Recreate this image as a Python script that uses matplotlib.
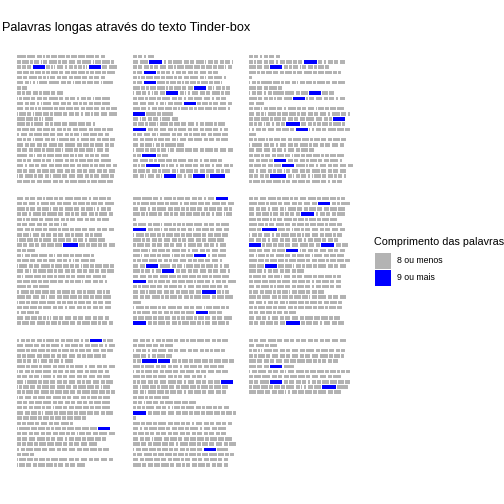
import matplotlib
matplotlib.use("Agg")
import matplotlib.pyplot as plt
from matplotlib.patches import Rectangle

TITLE = "Palavras longas através do texto Tinder-box"
LEGEND_TITLE = "Comprimento das palavras"
CATEGORIES = ["8 ou menos", "9 ou mais"]
COLORS = ["#B3B3B3", "#0000FF"]
THRESHOLD = 9  # words with at least this many letters are "long"

# Each page: one string per text line; each character is one word's length (base 36).
PAGE_1 = ["7641345345633", "3524136245371462", "33393115232311946", "4434235344523436",
          "436321434354343", "5312168431434417", "34", "32442535", "1253437334243146",
          "534216543423356", "5331283454354334", "15315426343241456", "653116",
          "631732546542", "354453423463534", "253644532414543", "4231643174264354",
          "53443648443633", "343526416345153", "831425543143336", "423624163325448",
          "5243545443523443", "435354543435435", "1362431645532463", "45346433562464"]
PAGE_2 = ["3325", "46a237436143341", "33423541564343413", "24923324343534",
          "3135435234631462", "249624313425341", "5324613534931423", "14321349312543624",
          "342536432465234", "455231469342453", "5424453153245362", "9738", "41334165",
          "342516344523625", "a4354263435423", "245318343254364", "436244315463435",
          "43513285", "1634241365436354", "23a34", "46325436432453", "313a3142354342542",
          "3534263145346324", "431531942392b"]
PAGE_3 = ["332343", "3143424433a32434", "5449324134243", "523443524634532", "2",
          "1328524314426345", "54363", "134238735944", "633314691453424", "46",
          "3413542633514345", "43216345244352642", "34625343465329", "32313233a43234262",
          "1243545391243654", "5", "3251344365244354", "184325436243453", "4553425354",
          "3424354143452345", "43539434253462", "353459714253454", "4253241354364345",
          "3333c313421534232", "253462345364234"]
PAGE_4 = ["534415336542453", "43526446353447", "6243514364351243", "342637442354263",
          "413536432453435", "345433413", "542536253445344", "44153434426326",
          "15432635434265", "4343455b434335", "336", "3145631443552", "3544354321364",
          "1634725433143543", "5313642443434345", "31653425336463", "454345433415432",
          "7347", "263454363426413", "64531544534356", "143556334254345",
          "445363425423435", "2453", "5443211435345343", "354634254364243"]
PAGE_5 = ["6742625443259", "226453624544645", "4523744324435432", "53163423445332514",
          "2", "363516232563436", "a44135243145354", "163432543463454", "62343542354365",
          "254344352644325", "55145364254355", "51443614359246", "234633245334452",
          "44983415435324", "524249343453452", "45346534534265", "a42534551542436",
          "325443632545443", "44154433544a313", "434623534256356", "6",
          "1635236443514532", "2364342436954", "3453443235244346", "a33534254314452"]
PAGE_6 = ["335635235635423", "65253543549327", "434253164354455", "445143333a24336",
          "53512463425355", "64246435345254", "53b53142453454", "1435236431453524",
          "443253443245343", "9243445643a44", "54536913435434", "415236435416445",
          "643542563452454", "55945142436435", "542343435", "263441534634523",
          "35453645324534", "436215435424534", "2435234145344", "536424354146345",
          "452434164353453", "325436424534254", "33442435", "44325345364534",
          "334534a3442544"]
PAGE_7 = ["2333416335423924", "564336245345325", "634534253244544", "33645334533453",
          "4233153426", "635263523625435", "134256343453543", "343416243543545",
          "517344435324535", "124435464365315", "325463544365433", "135354633542435",
          "43456344343356", "433524153454346", "544216354354435", "44534343453",
          "335353462", "1845324354559", "3434344433144465", "34563352443543",
          "334355533456", "23554534544534", "353", "154343564353453", "14435524346"]
PAGE_8 = ["4432425342454334", "354436", "1432464353433243", "542364", "23b94243543544",
          "52734342453454", "132543544634544", "534364235342", "224435642543449",
          "415425436425354", "431653442453543", "342355", "3314436545",
          "23264321436424334", "a35454434354342", "2", "5343644332543433",
          "42365344362546", "3433343443343434", "434164534453545", "543644265344535",
          "14453433424498", "2463453425346433", "436443524434533", "634463423453343"]
PAGE_9 = ["335644334433455", "4635", "2311644354635433", "325354353456342",
          "54435446432334", "54498", "14634315634534233", "3564345535536",
          "337934432335544", "255343631245a8", "55444124453645"]

PAGES = [PAGE_1, PAGE_2, PAGE_3, PAGE_4, PAGE_5, PAGE_6, PAGE_7, PAGE_8, PAGE_9]

# ---- layout (pixels) ----
W = H = 504
COL_LEFT = [16.7, 133.0, 249.0]
ROW_FIRST = [56.7, 198.5, 340.3]
PX_PER_CHAR = 1.333
LINE_PX = 5.19
N_LINES = 25
X_MAX = 80

fig = plt.figure(figsize=(7, 7), dpi=72)
fig.patch.set_facecolor("white")
plt.rcParams["font.family"] = ["Liberation Sans", "DejaVu Sans"]

for idx, page in enumerate(PAGES):
    r, c = divmod(idx, 3)
    left = COL_LEFT[c]
    top = ROW_FIRST[r] - 0.5 * LINE_PX
    w = X_MAX * PX_PER_CHAR
    h = N_LINES * LINE_PX
    ax = fig.add_axes([left / W, 1 - (top + h) / H, w / W, h / H])
    ys, lefts, widths, cols = [], [], [], []
    for li, line in enumerate(page, start=1):
        pos = 0
        for ch in line:
            n = int(ch, 36)
            ys.append(li)
            lefts.append(pos)
            widths.append(n)
            cols.append(COLORS[1] if n >= THRESHOLD else COLORS[0])
            pos += n + 1
    ax.barh(ys, widths, left=lefts, height=0.66, color=cols, linewidth=0)
    ax.set_xlim(0, X_MAX)
    ax.set_ylim(N_LINES + 0.5, 0.5)
    ax.axis("off")

fig.text(2 / W, 1 - 31 / H, TITLE, fontsize=12.8, va="baseline", ha="left")

# legend (the reference's legend title runs to the right edge)
fig.text(374 / W, 1 - 245 / H, LEGEND_TITLE, fontsize=10.8, va="baseline", ha="left")
key_tops = [252.7, 270.0]
for i, (lab, col) in enumerate(zip(CATEGORIES, COLORS)):
    kt = key_tops[i]
    fig.add_artist(Rectangle((375 / W, 1 - (kt + 16) / H), 16 / W, 16 / H,
                             transform=fig.transFigure, facecolor=col, edgecolor="none"))
    fig.text(397 / W, 1 - (kt + 8) / H, lab, fontsize=8.8, va="center", ha="left")

fig.savefig("out.png", dpi=72, facecolor="white")
